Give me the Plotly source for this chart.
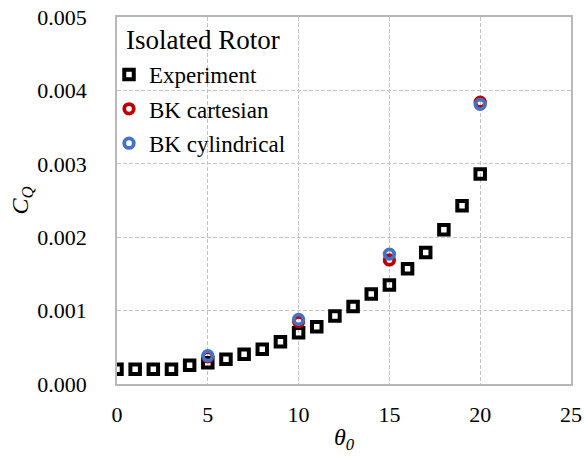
import plotly.graph_objects as go

# Collective pitch (deg) and torque coefficient
theta_exp = [0, 1, 2, 3, 4, 5, 6, 7, 8, 9, 10, 11, 12, 13, 14, 15, 16, 17, 18, 19, 20]
cq_exp = [0.000200, 0.000200, 0.000200, 0.000200, 0.000255, 0.000290, 0.000336, 0.000405,
          0.000473, 0.000576, 0.000699, 0.000780, 0.000926, 0.001055, 0.001226, 0.001350,
          0.001570, 0.001790, 0.002100, 0.002430, 0.002860]

theta_bk = [5, 10, 15, 20]
cq_bk_cart = [0.000370, 0.000850, 0.001690, 0.003840]
cq_bk_cyl = [0.000385, 0.000880, 0.001770, 0.003810]

x_ticks = [0, 5, 10, 15, 20, 25]
y_ticks = [0, 0.001, 0.002, 0.003, 0.004, 0.005]

SERIF = "Liberation Serif"

fig = go.Figure()
fig.add_trace(go.Scatter(
    x=theta_exp, y=cq_exp, mode="markers", name="Experiment", legendgroup="a",
    marker=dict(symbol="square-open", size=9.5, color="black", line=dict(width=4, color="black")),
))
fig.add_trace(go.Scatter(
    x=theta_bk, y=cq_bk_cart, mode="markers", name="BK cartesian", legendgroup="b",
    marker=dict(symbol="circle-open", size=9.5, color="#c00000", line=dict(width=3.8, color="#c00000")),
))
fig.add_trace(go.Scatter(
    x=theta_bk, y=cq_bk_cyl, mode="markers", name="BK cylindrical", legendgroup="c",
    marker=dict(symbol="circle-open", size=9.5, color="#4472c4", line=dict(width=3.8, color="#4472c4")),
))

fig.update_layout(
    template="none",
    width=584, height=456,
    margin=dict(l=117, r=13, t=17, b=72),
    paper_bgcolor="white", plot_bgcolor="white",
    font=dict(family=SERIF, size=22, color="black"),
    legend=dict(
        x=-0.0176, y=0.902, xanchor="left", yanchor="top",
        bgcolor="rgba(0,0,0,0)", borderwidth=0,
        font=dict(family=SERIF, size=23, color="black"),
        tracegroupgap=1.5, traceorder="grouped", itemwidth=30,
    ),
    annotations=[dict(
        text="Isolated Rotor", xref="paper", yref="paper", x=0.0154, y=0.937,
        xanchor="left", yanchor="middle", showarrow=False,
        font=dict(family=SERIF, size=27, color="black"),
    )],
    showlegend=True,
)

# Shared axis styling: grey frame, dashed grid, serif tick labels
fig.update_xaxes(
    range=[0, 25], tickvals=x_ticks, ticklen=10,
    title_text="<i>θ<sub>0</sub></i>", title_font_family=SERIF, title_font_size=24, title_standoff=2,
)
fig.update_yaxes(
    range=[0, 0.005], tickvals=y_ticks, tickformat=".3f", ticklen=24,
    title_text="<i>C<sub><i>Q</i></sub></i>", title_font_family=SERIF, title_font_size=24, title_standoff=2,
)
fig.update_xaxes(
    showline=True, linecolor="#b8b8b8", linewidth=1.5, mirror=True,
    showgrid=True, gridcolor="#c4c4c4", griddash="4px,2px", gridwidth=1,
    zeroline=False, ticks="outside", tickcolor="rgba(0,0,0,0)", automargin=False,
    tickfont_family=SERIF, tickfont_size=22, tickfont_color="black",
)
fig.update_yaxes(
    showline=True, linecolor="#b8b8b8", linewidth=1.5, mirror=True,
    showgrid=True, gridcolor="#c4c4c4", griddash="4px,2px", gridwidth=1,
    zeroline=False, ticks="outside", tickcolor="rgba(0,0,0,0)", automargin=False,
    tickfont_family=SERIF, tickfont_size=22, tickfont_color="black",
)

fig.write_html("out.html")
